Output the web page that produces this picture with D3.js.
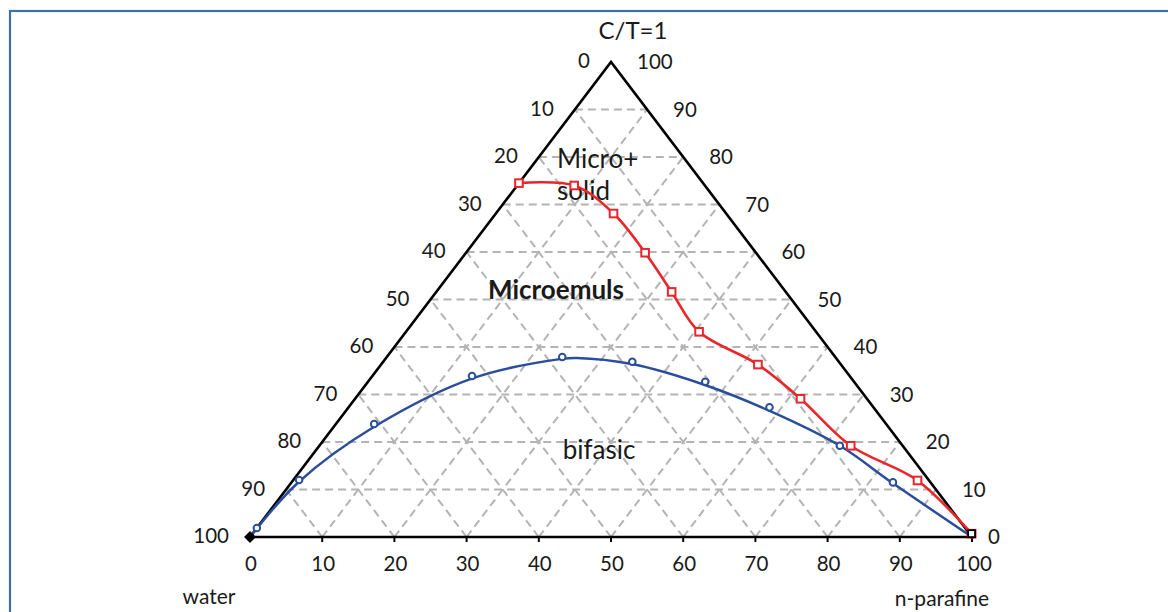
<!DOCTYPE html>
<html>
<head>
<meta charset="utf-8">
<script src="https://cdn.jsdelivr.net/npm/d3@7"></script>
<style>
  html, body { margin: 0; padding: 0; background: #fff; }
  svg { display: block; }
  text { font-family: Lato, "Open Sans", sans-serif; fill: #1a1a1a; }
</style>
</head>
<body>
<svg id="chart" width="1168" height="612"></svg>
<script>
// Ternary diagram: water / n-parafine / surfactant (C/T = 1)
// Each point is [n-parafine %, surfactant %]; water is the remainder.

const gridSteps = [10, 20, 30, 40, 50, 60, 70, 80, 90];
const tickValues = [0, 10, 20, 30, 40, 50, 60, 70, 80, 90, 100];

// solubility boundary (red squares)
const redOil  = [0, 7.9, 16.3, 24.8, 32.6, 40.6, 52.2, 61.7, 73.6, 86.5, 99.6];
const redSurf = [74.5, 74.0, 68.1, 59.85, 51.6, 43.2, 36.3, 29.1, 19.2, 11.9, 0.7];

// biphasic boundary, measured points (blue circles)
const blueOil  = [0, 0.8, 5.3, 13.8, 24.3, 34.5, 46.7, 58.3, 72.1, 83.3];
const blueSurf = [1.9, 12.0, 23.8, 33.9, 37.9, 36.9, 32.7, 27.3, 19.2, 11.5];

// biphasic boundary, fitted curve (blue line)
const fitOil  = [0, 0.97, 5.6, 14.1, 24.4, 26.4, 34.7, 47.0, 58.6, 72.1, 83.4, 100];
const fitSurf = [0, 11.64, 23.2, 33.4, 37.5, 37.7, 36.4, 32.0, 26.6, 19.2, 11.3, 0];

// pure-component end points
const endOil  = [0, 99.6];
const endSurf = [0, 0.7];

const svg = d3.select("#chart");

// bottom axis position (oil + surf/2) and height (surf)
const sx = d3.scaleLinear().domain([0, 100]).range([250, 972]);
const sy = d3.scaleLinear().domain([0, 100]).range([537, 62]);
const px = (oil, surf) => sx(oil + surf / 2);
const py = (oil, surf) => sy(surf);

const zip = (a, b) => a.map((v, i) => [v, b[i]]);
const red  = zip(redOil, redSurf);
const blue = zip(blueOil, blueSurf);
const fit  = zip(fitOil, fitSurf);

// outer frame
svg.append("rect")
  .attr("x", 10).attr("y", 11)
  .attr("width", 1200).attr("height", 700)
  .attr("fill", "none")
  .attr("stroke", "#3a72a6")
  .attr("stroke-width", 2.2);

const gGrid = svg.append("g")
  .attr("stroke", "#b4b4b4")
  .attr("stroke-width", 2)
  .attr("stroke-dasharray", "8,5")
  .attr("fill", "none");

gridSteps.forEach(v => {
  // constant surfactant (horizontal)
  gGrid.append("line")
    .attr("x1", px(0, v)).attr("y1", py(0, v))
    .attr("x2", px(100 - v, v)).attr("y2", py(100 - v, v));
  // constant n-parafine (parallel to left side)
  gGrid.append("line")
    .attr("x1", px(v, 0)).attr("y1", py(v, 0))
    .attr("x2", px(v, 100 - v)).attr("y2", py(v, 100 - v));
  // constant water (parallel to right side)
  gGrid.append("line")
    .attr("x1", px(v, 0)).attr("y1", py(v, 0))
    .attr("x2", px(0, v)).attr("y2", py(0, v));
});

// triangle outline
svg.append("path")
  .attr("d", d3.line()([[px(0, 0), py(0, 0)], [px(100, 0), py(100, 0)], [px(0, 100), py(0, 100)]]) + "Z")
  .attr("fill", "none")
  .attr("stroke", "#000")
  .attr("stroke-width", 2.6)
  .attr("stroke-linejoin", "miter");

// bottom axis ticks
svg.append("g").selectAll("line")
  .data(tickValues)
  .join("line")
  .attr("x1", d => px(d, 0)).attr("x2", d => px(d, 0))
  .attr("y1", py(0, 0)).attr("y2", py(0, 0) + 5)
  .attr("stroke", "#000").attr("stroke-width", 2);

// tick labels
const gLab = svg.append("g").style("font-size", "20.5px");
tickValues.forEach(v => {
  // bottom: n-parafine
  gLab.append("text")
    .attr("x", px(v, 0) + (v === 100 ? 2 : 1)).attr("y", py(0, 0) + 29)
    .attr("text-anchor", "middle")
    .attr("dominant-baseline", "middle")
    .text(v);
  // left side: water (value decreases upward)
  gLab.append("text")
    .attr("x", px(0, v) - 21).attr("y", py(0, v) + 1)
    .attr("text-anchor", "end")
    .attr("dominant-baseline", "middle")
    .text(100 - v);
  // right side: surfactant
  gLab.append("text")
    .attr("x", px(100 - v, v) + (v === 0 ? 16 : 26)).attr("y", py(100 - v, v) + 2)
    .attr("text-anchor", "start")
    .attr("dominant-baseline", "middle")
    .text(v);
});

// vertex captions
svg.append("text")
  .attr("x", 633).attr("y", 33)
  .attr("text-anchor", "middle").attr("dominant-baseline", "middle")
  .style("font-size", "24px")
  .text("C/T=1");
svg.append("text")
  .attr("x", 209).attr("y", 599)
  .attr("text-anchor", "middle").attr("dominant-baseline", "middle")
  .style("font-size", "21px")
  .text("water");
svg.append("text")
  .attr("x", 942).attr("y", 601)
  .attr("text-anchor", "middle").attr("dominant-baseline", "middle")
  .style("font-size", "21px")
  .text("n-parafine");

// region labels
const region = svg.append("g").style("font-size", "26px");
region.append("text").attr("x", 557).attr("y", 161)
  .attr("dominant-baseline", "middle").text("Micro+");
region.append("text").attr("x", 557).attr("y", 193)
  .attr("dominant-baseline", "middle").text("solid");
region.append("text").attr("x", 556).attr("y", 292)
  .attr("text-anchor", "middle").attr("dominant-baseline", "middle")
  .style("font-weight", "bold").text("Microemuls");
region.append("text").attr("x", 599).attr("y", 452)
  .attr("text-anchor", "middle").attr("dominant-baseline", "middle")
  .text("bifasic");

// curves
const line = d3.line()
  .x(d => px(d[0], d[1]))
  .y(d => py(d[0], d[1]))
  .curve(d3.curveCatmullRom.alpha(0.5));

const blueColor = "#2a4d9c";
const redColor = "#e8262b";

svg.append("path")
  .attr("d", line(fit))
  .attr("fill", "none")
  .attr("stroke", blueColor)
  .attr("stroke-width", 2.5);

svg.append("path")
  .attr("d", line(red))
  .attr("fill", "none")
  .attr("stroke", redColor)
  .attr("stroke-width", 2.6);

// markers
svg.append("g").selectAll("circle")
  .data(blue)
  .join("circle")
  .attr("cx", d => px(d[0], d[1]))
  .attr("cy", d => py(d[0], d[1]))
  .attr("r", 3.3)
  .attr("fill", "#fff")
  .attr("stroke", blueColor)
  .attr("stroke-width", 2);

svg.append("g").selectAll("rect")
  .data(red)
  .join("rect")
  .attr("x", d => px(d[0], d[1]) - 3.8)
  .attr("y", d => py(d[0], d[1]) - 3.8)
  .attr("width", 7.6).attr("height", 7.6)
  .attr("fill", "#fff")
  .attr("stroke", redColor)
  .attr("stroke-width", 2);

// pure-component markers
const ends = zip(endOil, endSurf);
svg.append("path")
  .attr("d", d3.symbol(d3.symbolDiamond2, 90)())
  .attr("transform", `translate(${px(ends[0][0], ends[0][1])},${py(ends[0][0], ends[0][1])})`)
  .attr("fill", "#000");
svg.append("rect")
  .attr("x", px(ends[1][0], ends[1][1]) - 3.5)
  .attr("y", py(ends[1][0], ends[1][1]) - 3.5)
  .attr("width", 7).attr("height", 7)
  .attr("fill", "none")
  .attr("stroke", "#000")
  .attr("stroke-width", 1.8);
</script>
</body>
</html>
